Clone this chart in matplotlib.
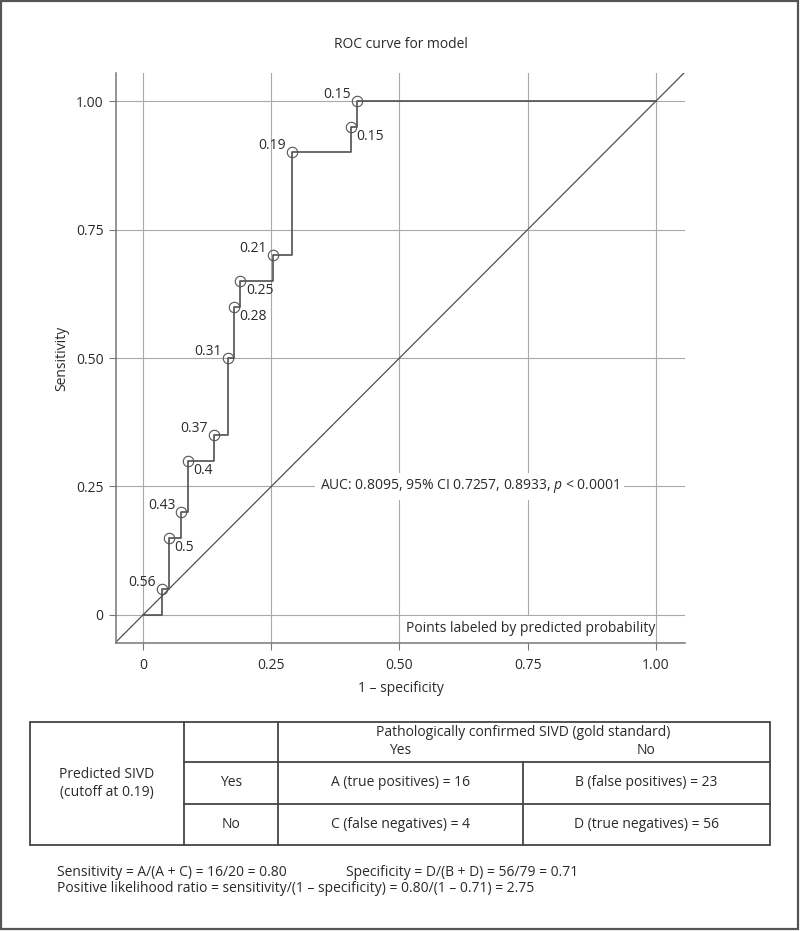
import matplotlib
matplotlib.use("Agg")
import matplotlib.pyplot as plt
from matplotlib.patches import Rectangle

plt.rcParams['font.family'] = ['Open Sans', 'DejaVu Sans']
plt.rcParams['mathtext.fontset'] = 'custom'
plt.rcParams['mathtext.rm'] = 'Open Sans'
plt.rcParams['mathtext.it'] = 'Open Sans:italic'

# ---- data ----
fpr = [0.0, 0.037, 0.051, 0.075, 0.088, 0.139, 0.165, 0.177, 0.190, 0.253, 0.291, 0.405, 0.418, 1.0]
sens = [0.0, 0.05, 0.15, 0.20, 0.30, 0.35, 0.50, 0.60, 0.65, 0.70, 0.90, 0.95, 1.00, 1.00]
point_labels = ['0.56', '0.5', '0.43', '0.4', '0.37', '0.31', '0.28', '0.25', '0.21', '0.19', '0.15', '0.15']
label_side = ['ul', 'lr', 'ul', 'lr', 'ul', 'ul', 'lr', 'lr', 'ul', 'ul', 'lr', 'ul']
ticks = [0, 0.25, 0.50, 0.75, 1.00]
tick_labels = ['0', '0.25', '0.50', '0.75', '1.00']
auc_text = 'AUC: 0.8095, 95% CI 0.7257, 0.8933, $p$ < 0.0001'

table_header = 'Pathologically confirmed SIVD (gold standard)'
col_labels = ['Yes', 'No']
row_title = 'Predicted SIVD\n(cutoff at 0.19)'
row_labels = ['Yes', 'No']
cells = [['A (true positives) = 16', 'B (false positives) = 23'],
         ['C (false negatives) = 4', 'D (true negatives) = 56']]
footer1a = 'Sensitivity = A/(A + C) = 16/20 = 0.80'
footer1b = 'Specificity = D/(B + D) = 56/79 = 0.71'
footer2 = 'Positive likelihood ratio = sensitivity/(1 – specificity) = 0.80/(1 – 0.71) = 2.75'

TXT = '#2a2a2a'
GRID = '#a9a9a9'
LINE = '#505050'
FS = 10

W, H = 800, 931
fig = plt.figure(figsize=(W / 100, H / 100), dpi=100)

# ---- ROC axes ----
L, R, T, B = 116, 685, 73, 643
ax = fig.add_axes([L / W, 1 - B / H, (R - L) / W, (B - T) / H])
ax.set_xlim(-0.0526, 1.0565)
ax.set_ylim(-0.0545, 1.0545)
ax.set_xticks(ticks)
ax.set_xticklabels(tick_labels)
ax.set_yticks(ticks)
ax.set_yticklabels(tick_labels)
ax.set_axisbelow(True)
ax.grid(True, color=GRID, lw=0.8)
for s in ['top', 'right']:
    ax.spines[s].set_visible(False)
for s in ['left', 'bottom']:
    ax.spines[s].set_color('#777777')
    ax.spines[s].set_linewidth(1.1)
ax.tick_params(direction='out', length=5, width=0.8, color='#777777',
               labelsize=FS, labelcolor=TXT, pad=4)
ax.tick_params(axis='x', pad=6)

# reference diagonal
ax.axline((0, 0), (1, 1), color=LINE, lw=0.9, zorder=2)
# ROC step curve
ax.plot(fpr, sens, drawstyle='steps-post', color=LINE, lw=1.2, zorder=3)
ax.plot(fpr[1:-1], sens[1:-1], 'o', ms=7.5, mfc='none', mec='#555555', mew=0.8, zorder=4)
for x, y, lab, side in zip(fpr[1:-1], sens[1:-1], point_labels, label_side):
    if side == 'ul':
        ax.annotate(lab, (x, y), xytext=(-4.5, 5), textcoords='offset points',
                    ha='right', va='center', fontsize=FS, color=TXT)
    else:
        ax.annotate(lab, (x, y), xytext=(4, -7), textcoords='offset points',
                    ha='left', va='center', fontsize=FS, color=TXT)

ax.text(0.637, 0.25, auc_text, ha='center', va='center', fontsize=FS, color=TXT,
        zorder=5, bbox=dict(boxstyle='square,pad=0.35', fc='white', ec='none'))
ax.add_patch(Rectangle((0.503, -0.0545), 0.494, 0.0535, fc='white', ec='none', zorder=1))
ax.text(0.512, -0.027, 'Points labeled by predicted probability', ha='left', va='center',
        fontsize=FS, color=TXT, zorder=5)

fig.text(400.5 / W, 1 - 44 / H, 'ROC curve for model', ha='center', va='center', fontsize=FS, color=TXT)
fig.text(400.5 / W, 1 - 688 / H, '1 – specificity', ha='center', va='center', fontsize=FS, color=TXT)
fig.text(62 / W, 1 - 358 / H, 'Sensitivity', ha='center', va='center', rotation=90, fontsize=FS, color=TXT)

# ---- overlay axes in pixel coordinates for the table ----
ov = fig.add_axes([0, 0, 1, 1])
ov.set_xlim(0, W)
ov.set_ylim(H, 0)
ov.axis('off')
ov.add_patch(Rectangle((1, 1), W - 3, H - 3, fc='none', ec='#555555', lw=1.6))

TL, TR, TT, TB = 30, 770, 722, 845
c1, c2, c3 = 184, 278, 523
r1, r2 = 762, 804
tk = dict(color='#444444', lw=1.3)
ov.add_patch(Rectangle((TL, TT), TR - TL, TB - TT, fc='none', ec='#444444', lw=1.3))
ov.plot([c1, c1], [TT, TB], **tk)
ov.plot([c2, c2], [TT, TB], **tk)
ov.plot([c3, c3], [r1, TB], **tk)
ov.plot([c1, TR], [r1, r1], **tk)
ov.plot([c1, TR], [r2, r2], **tk)

ov.text(c3, 733, table_header, ha='center', va='center', fontsize=FS, color=TXT)
ov.text((c2 + c3) / 2, 750, col_labels[0], ha='center', va='center', fontsize=FS, color=TXT)
ov.text((c3 + TR) / 2, 750, col_labels[1], ha='center', va='center', fontsize=FS, color=TXT)
ov.text((TL + c1) / 2, (TT + TB) / 2, row_title, ha='center', va='center', fontsize=FS,
        color=TXT, linespacing=1.2)
for i, (rl, ry) in enumerate(zip(row_labels, [(r1 + r2) / 2, (r2 + TB) / 2])):
    ov.text((c1 + c2) / 2, ry, rl, ha='center', va='center', fontsize=FS, color=TXT)
    ov.text((c2 + c3) / 2, ry, cells[i][0], ha='center', va='center', fontsize=FS, color=TXT)
    ov.text((c3 + TR) / 2, ry, cells[i][1], ha='center', va='center', fontsize=FS, color=TXT)

ov.text(57, 872, footer1a, ha='left', va='center', fontsize=FS, color=TXT)
ov.text(346, 872, footer1b, ha='left', va='center', fontsize=FS, color=TXT)
ov.text(57, 889, footer2, ha='left', va='center', fontsize=FS, color=TXT)

fig.savefig('out.png', dpi=100, facecolor='white')
